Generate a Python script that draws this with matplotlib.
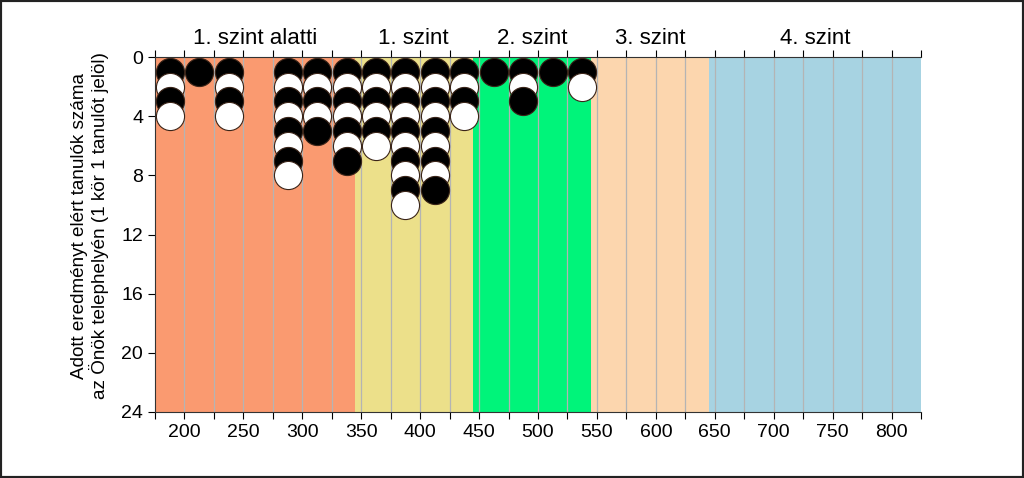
import matplotlib
matplotlib.use("Agg")
import matplotlib.pyplot as plt
from matplotlib.patches import Rectangle

plt.rcParams['font.family'] = ['Liberation Sans', 'DejaVu Sans']

# Score bins (column centres) and number of students in each
score_bins = [187.5, 212.5, 237.5, 262.5, 287.5, 312.5, 337.5, 362.5,
              387.5, 412.5, 437.5, 462.5, 487.5, 512.5, 537.5]
student_counts = [4, 1, 4, 0, 8, 5, 7, 6, 10, 9, 4, 1, 3, 1, 2]

# Level bands
level_names = ["1. szint alatti", "1. szint", "2. szint", "3. szint", "4. szint"]
level_edges = [175, 344.5, 444.5, 545, 645, 825]
level_colors = ["#FA9A70", "#ECE08A", "#00F47A", "#FCD6AE", "#A7D3E2"]

x_ticks_major = [200, 250, 300, 350, 400, 450, 500, 550, 600, 650, 700, 750, 800]
y_ticks = [0, 4, 8, 12, 16, 20, 24]

fig = plt.figure(figsize=(10.24, 4.78), dpi=100)
ax = fig.add_axes([155/1024, 1-412/478, (921-155)/1024, (412-57)/478])

for i, name in enumerate(level_names):
    x0, x1 = level_edges[i], level_edges[i+1]
    ax.axvspan(x0, x1, color=level_colors[i], zorder=0, lw=0)
    ax.text((x0+x1)/2, 1.053, name, transform=ax.get_xaxis_transform(),
            ha='center', va='center', fontsize=16)

# vertical grid lines every 25
for xv in range(200, 825, 25):
    ax.axvline(xv, color='#B4B4B4', lw=0.9, zorder=1)

for xb, n in zip(score_bins, student_counts):
    for k in range(1, n+1):
        fc = 'black' if k % 2 == 1 else 'white'
        ax.scatter([xb], [k], s=410, facecolor=fc, edgecolor='#3a2418',
                   linewidth=0.8, zorder=3+k, clip_on=False)

ax.set_xlim(175, 825)
ax.set_ylim(24, 0)
ax.set_xticks(x_ticks_major)
ax.set_xticks(list(range(175, 826, 25)), minor=True)
ax.set_yticks(y_ticks)
ax.tick_params(axis='x', which='both', direction='out', length=5, top=True,
               labelsize=14, colors='black', width=0.8)
ax.tick_params(axis='x', which='minor', length=5)
ax.tick_params(axis='y', direction='out', length=5, labelsize=14, width=0.8)
for s in ['right']:
    ax.spines[s].set_visible(False)
for s in ['left', 'bottom', 'top']:
    ax.spines[s].set_color('#333333')
    ax.spines[s].set_linewidth(0.8)

ax.set_ylabel("Adott eredményt elért tanulók száma\naz Önök telephelyén (1 kör 1 tanulót jelöl)",
              fontsize=13.6, linespacing=1.05)
ax.yaxis.set_label_coords(-0.06, 0.525)

fig.patches.append(Rectangle((0, 0), 1, 1, transform=fig.transFigure,
                             fill=False, edgecolor='#222222', lw=3))

fig.savefig("out.png", dpi=100)
